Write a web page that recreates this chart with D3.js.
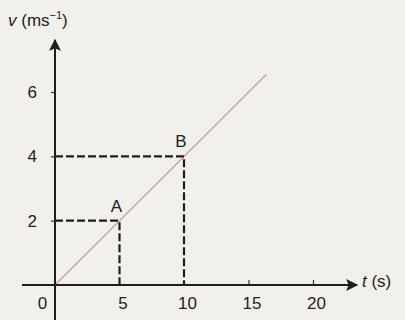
<!DOCTYPE html>
<html>
<head>
<meta charset="utf-8">
<script src="https://cdn.jsdelivr.net/npm/d3@7"></script>
<style>
  body { margin: 0; background: #f2f0eb; }
  svg { display: block; }
  text { font-family: "Liberation Sans", Arial, sans-serif; fill: #222; }
</style>
</head>
<body>
<div id="chart"></div>
<script>
var xTicks = [0, 5, 10, 15, 20],
    yTicks = [2, 4, 6],
    pointNames = ["A", "B"],
    pointT = [5, 10],
    pointV = [2, 4],
    lineT = [0, 16.4],
    lineV = [0, 6.55];

var width = 405, height = 320;

var x = d3.scaleLinear().domain([0, 20]).range([55, 313]),
    y = d3.scaleLinear().domain([0, 6]).range([285, 92]);

var svg = d3.select("#chart").append("svg")
    .attr("width", width)
    .attr("height", height);

svg.append("rect").attr("width", width).attr("height", height).attr("fill", "#f2f0eb");

// arrow head
svg.append("defs").append("marker")
    .attr("id", "arr")
    .attr("viewBox", "0 0 10 10")
    .attr("refX", 9).attr("refY", 5)
    .attr("markerWidth", 17).attr("markerHeight", 12)
    .attr("markerUnits", "userSpaceOnUse")
    .attr("orient", "auto")
    .append("path")
    .attr("d", "M0,0L10,5L0,10L2,5Z")
    .attr("fill", "#1e1e1e");

// the v-t line
var pts = lineT.map(function(t, i) { return [t, lineV[i]]; });
svg.append("path")
    .datum(pts)
    .attr("fill", "none")
    .attr("stroke", "#cfa3b3")
    .attr("stroke-width", 1.6)
    .attr("d", d3.line().x(function(d) { return x(d[0]); }).y(function(d) { return y(d[1]); }));

// dashed guides
pointT.forEach(function(t, i) {
  var v = pointV[i];
  svg.append("path")
      .attr("d", "M" + x(0) + "," + y(v) + "H" + x(t) + "V" + y(0))
      .attr("fill", "none")
      .attr("stroke", "#1e1e1e")
      .attr("stroke-width", 2.2)
      .attr("stroke-dasharray", "8,3");
  svg.append("text")
      .attr("x", x(t) - 3)
      .attr("y", y(v) - 9)
      .attr("text-anchor", "middle")
      .attr("font-size", 17)
      .text(pointNames[i]);
});

// x axis
svg.append("line")
    .attr("x1", 22).attr("x2", 357)
    .attr("y1", y(0)).attr("y2", y(0))
    .attr("stroke", "#1e1e1e").attr("stroke-width", 2)
    .attr("marker-end", "url(#arr)");

var xAxis = svg.append("g")
    .attr("transform", "translate(0," + y(0) + ")")
    .call(d3.axisBottom(x).tickValues(xTicks).tickFormat(d3.format("d")).tickSize(-5).tickPadding(9));
xAxis.select(".domain").remove();
xAxis.selectAll(".tick line").attr("stroke", "#333").attr("stroke-width", 1.2)
    .attr("display", function(d) { return d >= 15 ? null : "none"; });
xAxis.selectAll(".tick text")
    .attr("font-size", 17).attr("dy", "0.9em").attr("fill", "#222")
    .attr("dx", function(d) { return d === 0 ? -13 : 3; });

// y axis
svg.append("line")
    .attr("x1", x(0)).attr("x2", x(0))
    .attr("y1", 320).attr("y2", 40)
    .attr("stroke", "#1e1e1e").attr("stroke-width", 2)
    .attr("marker-end", "url(#arr)");

var yAxis = svg.append("g")
    .attr("transform", "translate(" + x(0) + ",0)")
    .call(d3.axisLeft(y).tickValues(yTicks).tickFormat(d3.format("d")).tickSize(4).tickPadding(14));
yAxis.select(".domain").remove();
yAxis.selectAll(".tick line").attr("stroke", "#333").attr("stroke-width", 1.2);
yAxis.selectAll(".tick text").attr("font-size", 17).attr("fill", "#222");

// axis titles
var yt = svg.append("text").attr("x", 8).attr("y", 26).attr("font-size", 17);
yt.append("tspan").attr("font-style", "italic").text("v");
yt.append("tspan").text(" (ms");
yt.append("tspan").attr("font-size", 11).attr("dy", -7).text("\u22121");
yt.append("tspan").attr("dy", 7).text(")");

var xt = svg.append("text").attr("x", 362).attr("y", 287).attr("font-size", 17);
xt.append("tspan").attr("font-style", "italic").text("t");
xt.append("tspan").text(" (s)");
</script>
</body>
</html>
